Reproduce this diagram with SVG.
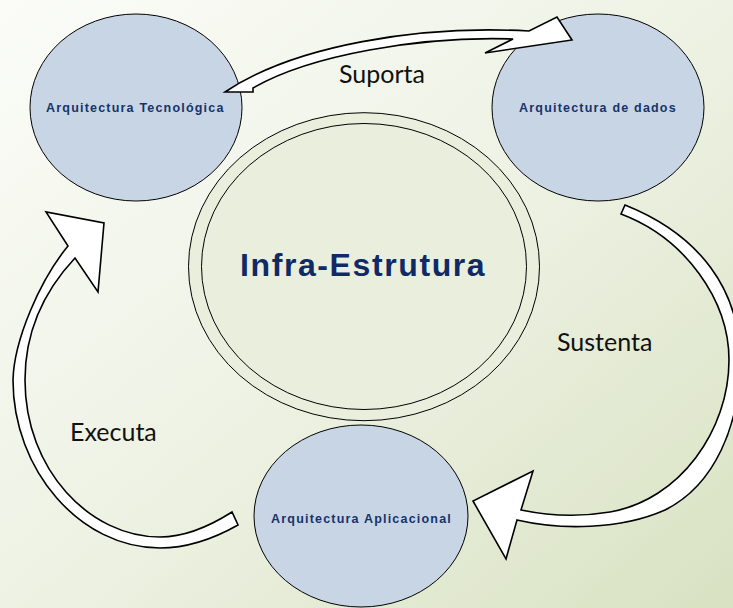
<svg xmlns="http://www.w3.org/2000/svg" width="733" height="608" viewBox="0 0 733 608">
  <defs>
    <linearGradient id="bg" x1="0" y1="0" x2="1" y2="1">
      <stop offset="0" stop-color="#fbfcf8"/>
      <stop offset="0.5" stop-color="#eef2e4"/>
      <stop offset="1" stop-color="#d8e2c2"/>
    </linearGradient>
  </defs>
  <style>
    .node { fill: #c8d5e5; stroke: #000; stroke-width: 1; }
    .ring { fill: #eaefdd; stroke: #000; stroke-width: 1; }
    .nlabel { font-family: "Liberation Sans", Arial, sans-serif; font-weight: bold; font-size: 12.5px; letter-spacing: 1.2px; fill: #17336b; }
    .title { font-family: "Liberation Sans", Arial, sans-serif; font-weight: bold; font-size: 32px; letter-spacing: 1.6px; fill: #0f2a66; }
    .arrow { fill: #fff; stroke: #000; stroke-width: 1.6; stroke-linejoin: miter; }
    .elabel { font-family: Lato, "Open Sans", sans-serif; font-size: 25px; fill: #111; }
  </style>
  <rect x="0" y="0" width="733" height="608" fill="url(#bg)"/>

  <g id="infra-estrutura">
    <ellipse class="ring" cx="364" cy="266.7" rx="175.5" ry="154"/>
    <ellipse class="ring" cx="364" cy="266.5" rx="162.5" ry="143"/>
    <text class="title" x="240" y="276">Infra-Estrutura</text>
  </g>

  <g id="arquitectura-tecnologica">
    <ellipse class="node" cx="136" cy="107.5" rx="106" ry="93.5"/>
    <text class="nlabel" x="46" y="112">Arquitectura Tecnológica</text>
  </g>
  <g id="arquitectura-dados">
    <ellipse class="node" cx="598" cy="107.5" rx="106" ry="93.5"/>
    <text class="nlabel" x="519" y="112">Arquitectura de dados</text>
  </g>
  <g id="arquitectura-aplicacional">
    <ellipse class="node" cx="361" cy="516" rx="107" ry="91"/>
    <text class="nlabel" x="271" y="523">Arquitectura Aplicacional</text>
  </g>

  <g id="connectors">
    <path class="arrow" d="M225,92 C295,45 420,25 529,31 L557,17 L572,40 L485,53 L513,39 C420,36 310,55 253,88 L253,92 Z"/>
    <path class="arrow" d="M625,205 C700,235 740,290 740,360 C740,425 715,485 665,510 C620,530 560,530 517,520 L506,559 L473,501 L533,471 L521,510 C550,516 580,517 610,512 C680,500 729,430 729,360 C729,300 685,238 621,214 Z"/>
    <path class="arrow" d="M232,512 C210,526 185,537 160,537 C90,537 25,470 25,380 C25,330 45,290 75,258 L98,292 L104,223 L46,212 L68,246 C40,280 14,340 13,380 C13,470 80,548 160,548 C190,548 215,538 238,525 Z"/>
    <text class="elabel" x="339" y="83">Suporta</text>
    <text class="elabel" x="557" y="351">Sustenta</text>
    <text class="elabel" x="70" y="441">Executa</text>
  </g>
</svg>
